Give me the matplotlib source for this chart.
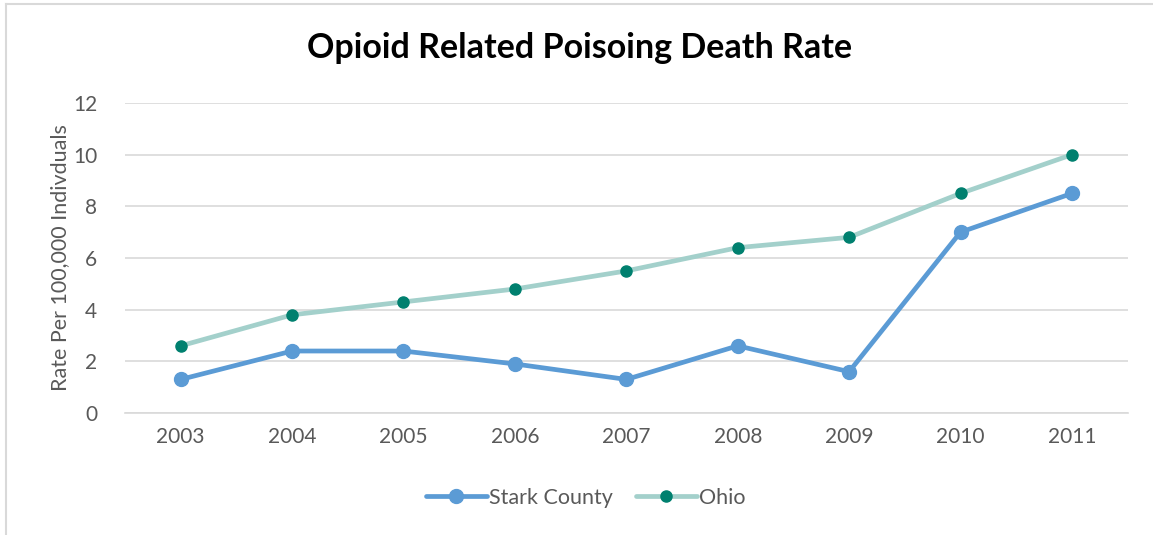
import matplotlib
matplotlib.use("Agg")
import matplotlib.pyplot as plt
from matplotlib.lines import Line2D

years = ["2003", "2004", "2005", "2006", "2007", "2008", "2009", "2010", "2011"]
stark = [1.3, 2.4, 2.4, 1.9, 1.3, 2.6, 1.6, 7.0, 8.5]
ohio = [2.6, 3.8, 4.3, 4.8, 5.5, 6.4, 6.8, 8.5, 10.0]
yticks = [0, 2, 4, 6, 8, 10, 12]

plt.rcParams['font.family'] = ['Lato', 'DejaVu Sans']

fig = plt.figure(figsize=(11.53, 5.35), dpi=100)
ax = fig.add_axes([0.1084, 0.228, 0.8696, 0.5795])

x = list(range(len(years)))
ax.plot(x, stark, color="#5B9BD5", lw=3.4, marker="o", markersize=10,
        markerfacecolor="#5B9BD5", markeredgecolor="#5B9BD5", label="Stark County",
        solid_capstyle="round", zorder=3)
ax.plot(x, ohio, color="#A3D0CB", lw=3.4, marker="o", markersize=8,
        markerfacecolor="#00806F", markeredgecolor="#00806F", label="Ohio",
        solid_capstyle="round", zorder=3)

ax.set_xlim(-0.5, len(years) - 0.5)
ax.set_ylim(0, 12)
ax.set_yticks(yticks)
ax.set_xticks(x)
ax.set_xticklabels(years)
ax.grid(axis="y", color="#D9D9D9", lw=1.2)
ax.set_axisbelow(True)
for s in ["top", "right", "left"]:
    ax.spines[s].set_visible(False)
ax.spines["bottom"].set_color("#D9D9D9")
ax.spines["bottom"].set_linewidth(1.2)
ax.tick_params(axis="both", length=0, labelsize=15, colors="#595959", pad=10)
ax.tick_params(axis="y", pad=20)
ax.set_ylabel("Rate Per 100,000 Indivduals", fontsize=15.5, color="#595959", labelpad=2)

fig.text(0.503, 0.91, "Opioid Related Poisoing Death Rate", ha="center", va="center",
         fontsize=24.5, fontweight="bold", color="black")

leg = fig.legend(loc="center", bbox_to_anchor=(0.508, 0.07), ncol=2, frameon=False,
                 fontsize=15.5, handlelength=2.8, columnspacing=1.1, handletextpad=0.1)
for t in leg.get_texts():
    t.set_color("#595959")

fig.lines.append(Line2D([0.0052, 0.0052], [0.002, 0.993], transform=fig.transFigure,
                        color="#D9D9D9", lw=1.5))
fig.lines.append(Line2D([0.0052, 1.0], [0.993, 0.993], transform=fig.transFigure,
                        color="#D9D9D9", lw=1.5))

fig.savefig("out.png", dpi=100)
